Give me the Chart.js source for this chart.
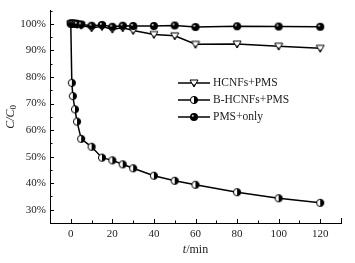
<!DOCTYPE html>
<html>
<head>
<meta charset="utf-8">
<script src="https://cdn.jsdelivr.net/npm/chart.js@4.4.0/dist/chart.umd.min.js"></script>
<style>
  html, body { margin: 0; padding: 0; background: #fff; }
  #wrap { width: 355px; height: 263px; }
</style>
</head>
<body>
<div id="wrap"><canvas id="chart"></canvas></div>
<script>
// data
const times = [0, 1, 2, 3, 5, 10, 15, 20, 25, 30, 40, 50, 60, 80, 100, 120]
const timesB = [0, 0.5, 1, 2, 3, 5, 10, 15, 20, 25, 30, 40, 50, 60, 80, 100, 120]
const hcnfs = [100, 100, 100, 99.8, 99.5, 98.5, 99, 98, 98.5, 97.5, 96, 95.5, 92.3, 92.4, 91.6, 90.8]
const bhcnfs = [100, 77.8, 72.8, 67.8, 63.2, 56.7, 53.7, 49.6, 48.6, 47.1, 45.6, 42.8, 40.9, 39.4, 36.6, 34.3, 32.6]
const pmsOnly = [100.2, 100.2, 100.1, 100, 99.8, 99.3, 99.6, 98.9, 99.3, 99.2, 99.2, 99.4, 98.8, 99.1, 99.0, 98.9]
const labels = ['HCNFs+PMS', 'B-HCNFs+PMS', 'PMS+only']
const xTickVals = [0, 20, 40, 60, 80, 100, 120]
const yTickVals = [30, 40, 50, 60, 70, 80, 90, 100]

const FONT = '"Liberation Serif", "Times New Roman", serif'

// marker images
function makeMarker(kind) {
  const c = document.createElement('canvas')
  c.width = 10; c.height = 10
  const g = c.getContext('2d')
  const r = 3.6, cx = 5, cy = 5
  g.lineWidth = 1
  g.strokeStyle = '#000'
  if (kind === 'half') {
    g.fillStyle = '#fff'
    g.beginPath(); g.arc(cx, cy, r, 0, Math.PI * 2); g.fill()
    g.fillStyle = '#000'
    g.beginPath(); g.arc(cx, cy, r, -Math.PI / 2, Math.PI / 2); g.fill()
    g.beginPath(); g.arc(cx, cy, r, 0, Math.PI * 2); g.stroke()
  } else if (kind === 'ball') {
    g.fillStyle = '#000'
    g.beginPath(); g.arc(cx, cy, r + 0.4, 0, Math.PI * 2); g.fill()
    g.fillStyle = '#bbb'
    g.beginPath(); g.arc(cx - 1.2, cy - 1.2, 1.1, 0, Math.PI * 2); g.fill()
  } else {
    g.fillStyle = '#fff'
    g.beginPath()
    g.moveTo(1, 2); g.lineTo(9, 2); g.lineTo(5, 9); g.closePath()
    g.fill(); g.stroke()
    g.fillStyle = '#000'
    g.beginPath()
    g.moveTo(3.5, 6.5); g.lineTo(6.5, 6.5); g.lineTo(5, 9); g.closePath()
    g.fill()
  }
  return c
}
const markTri = makeMarker('tri')
const markHalf = makeMarker('half')
const markBall = makeMarker('ball')

function pts(xs, ys) {
  return xs.map((t, i) => ({ x: t, y: ys[i] }))
}

// inward ticks, axis titles and legend
const decor = {
  id: 'decor',
  afterDraw(chart) {
    const c = chart.ctx
    const xs = chart.scales.x, ys = chart.scales.y
    const a = chart.chartArea
    c.save()
    c.strokeStyle = '#000'
    c.lineWidth = 1
    for (let v = -10; v <= 130; v += 10) {
      const px = Math.round(xs.getPixelForValue(v)) + 0.5
      let len = (v % 20 === 0 && v >= 0 && v <= 120) ? 4 : 2.5
      if (v === 130) len = 5
      c.beginPath(); c.moveTo(px, a.bottom); c.lineTo(px, a.bottom - len); c.stroke()
    }
    for (let v = 25; v <= 105; v += 5) {
      const py = Math.round(ys.getPixelForValue(v)) + 0.5
      const len = v % 10 === 0 ? 4 : 2.5
      c.beginPath(); c.moveTo(a.left, py); c.lineTo(a.left + len, py); c.stroke()
    }

    // y title C/C0
    c.fillStyle = '#222'
    c.translate(11, (a.top + a.bottom) / 2)
    c.rotate(-Math.PI / 2)
    c.font = 'italic 12px ' + FONT
    c.textBaseline = 'middle'
    const w1 = c.measureText('C/C').width
    c.font = '9px ' + FONT
    const w2 = c.measureText('0').width
    let sx = -(w1 + w2) / 2
    c.font = 'italic 12px ' + FONT
    c.textAlign = 'left'
    c.fillText('C/C', sx, 0)
    c.font = '9px ' + FONT
    c.fillText('0', sx + w1, 3)
    c.setTransform(1, 0, 0, 1, 0, 0)

    // x title t/min
    c.font = 'italic 12px ' + FONT
    const wt = c.measureText('t').width
    c.font = '12px ' + FONT
    const wm = c.measureText('/min').width
    const cx = (a.left + a.right) / 2
    let tx = cx - (wt + wm) / 2
    c.textBaseline = 'middle'
    c.font = 'italic 12px ' + FONT
    c.fillText('t', tx, 250)
    c.font = '12px ' + FONT
    c.fillText('/min', tx + wt, 250)

    // legend
    const marks = [markTri, markHalf, markBall]
    c.font = '11.5px ' + FONT
    labels.forEach((lab, i) => {
      const y = 83 + i * 17
      c.lineWidth = 1.5
      c.beginPath(); c.moveTo(178, y); c.lineTo(210, y); c.stroke()
      c.drawImage(marks[i], 194 - 5, y - 5)
      c.fillStyle = '#222'
      c.fillText(lab, 213, y)
    })
    c.restore()
  }
}

const ctx = document.getElementById('chart')
const chart = new Chart(ctx, {
  type: 'line',
  data: {
    datasets: [
      {
        label: labels[0],
        data: pts(times, hcnfs),
        borderColor: '#000',
        borderWidth: 1.5,
        pointStyle: markTri,
        order: 2
      },
      {
        label: labels[1],
        data: pts(timesB, bhcnfs),
        borderColor: '#000',
        borderWidth: 1.5,
        pointStyle: markHalf,
        order: 3
      },
      {
        label: labels[2],
        data: pts(times, pmsOnly),
        borderColor: '#000',
        borderWidth: 1.5,
        pointStyle: markBall,
        order: 1
      }
    ]
  },
  options: {
    responsive: true,
    maintainAspectRatio: false,
    animation: false,
    layout: { padding: { left: 0, right: 14, top: 10, bottom: 0 } },
    plugins: {
      legend: { display: false },
      tooltip: { enabled: false }
    },
    scales: {
      x: {
        type: 'linear',
        min: -10,
        max: 130,
        grid: { display: false, drawTicks: false },
        border: { display: true, color: '#000', width: 1 },
        afterBuildTicks: s => { s.ticks = xTickVals.map(v => ({ value: v })) },
        afterFit: s => { s.height = 40 },
        ticks: {
          color: '#222',
          padding: 5,
          maxRotation: 0,
          font: { family: FONT, size: 11 }
        }
      },
      y: {
        min: 25,
        max: 105,
        grid: { display: false, drawTicks: false },
        border: { display: true, color: '#000', width: 1 },
        afterBuildTicks: s => { s.ticks = yTickVals.map(v => ({ value: v })) },
        afterFit: s => { s.width = 50 },
        ticks: {
          color: '#222',
          padding: 4,
          font: { family: FONT, size: 11 },
          callback: v => v + '%'
        }
      }
    }
  },
  plugins: [decor]
})
</script>
</body>
</html>
